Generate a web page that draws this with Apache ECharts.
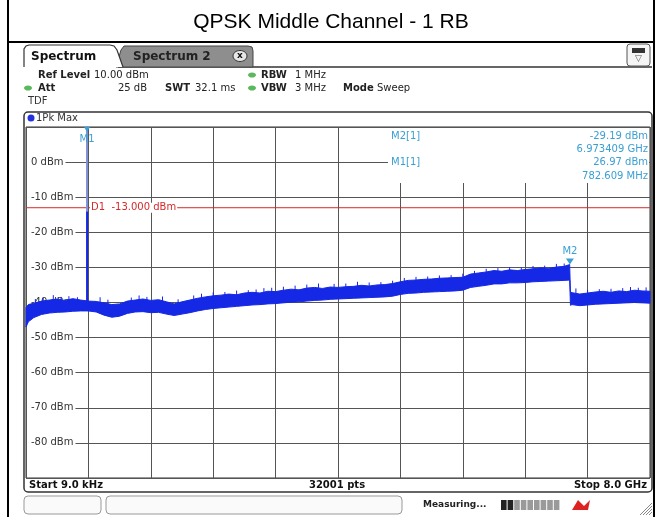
<!DOCTYPE html>
<html><head><meta charset="utf-8">
<script src="https://cdn.jsdelivr.net/npm/echarts@6/dist/echarts.min.js"></script>
<style>html,body{margin:0;padding:0;background:#fff}#c{width:656px;height:517px}</style>
</head><body><div id="c"></div>
<script>
// ---- data ----
const titleText = 'QPSK Middle Channel - 1 RB';
const freqGHz = [0,0.03,0.1,0.2,0.3,0.4,0.5,0.6,0.7,0.8,
  0.9,1.0,1.1,1.2,1.3,1.4,1.5,1.6,
  1.7,1.8,1.9,2.0,2.1,2.2,2.3,2.4,
  2.5,2.6,2.7,2.8,2.9,3.0,3.1,3.2,
  3.3,3.4,3.5,3.6,3.7,3.8,3.9,4.0,
  4.1,4.2,4.3,4.4,4.5,4.6,4.7,4.8,
  4.9,5.0,5.1,5.2,5.3,5.4,5.5,5.6,
  5.7,5.8,5.9,6.0,6.1,6.2,6.3,6.4,
  6.5,6.6,6.7,6.8,6.9,6.97,6.98,7.0,
  7.1,7.2,7.3,7.4,7.5,7.6,7.7,7.8,7.9,8.0];
const upperDbm = [-41.5,-40.6,-40.2,-39.6,-39.3,-39.0,-39.4,-38.9,-39.3,-39.6,
  -39.7,-40.1,-40.6,-40.4,-39.6,-39.3,-39.0,-39.4,
  -39.2,-39.8,-40.4,-39.8,-39.3,-38.8,-38.4,-38.1,
  -37.9,-37.6,-37.8,-37.3,-37.1,-37.3,-36.8,-36.9,
  -36.5,-36.2,-36.4,-35.9,-35.7,-36.0,-35.6,-35.7,
  -35.5,-35.4,-35.1,-35.3,-35.0,-34.9,-34.6,-34.1,
  -33.7,-33.6,-33.4,-33.3,-33.1,-33.0,-32.9,-32.8,
  -31.9,-31.6,-31.3,-30.9,-31.1,-30.7,-30.9,-30.6,
  -30.4,-30.1,-30.3,-29.9,-29.7,-29.2,-37.0,-37.2,
  -37.6,-37.3,-37.0,-36.8,-37.1,-36.7,-36.9,-36.5,-36.7,-36.8];
const lowerDbm = [-47.0,-45.5,-44.3,-43.4,-43.0,-42.8,-42.7,-42.5,-42.4,-42.4,
  -42.7,-43.6,-44.2,-43.9,-43.1,-42.7,-42.6,-42.9,
  -42.8,-43.3,-43.7,-43.3,-42.9,-42.4,-42.0,-41.7,
  -41.5,-41.3,-41.1,-40.9,-40.7,-40.6,-40.4,-40.3,
  -40.1,-39.9,-39.8,-39.6,-39.4,-39.3,-39.1,-39.0,
  -38.9,-38.8,-38.7,-38.6,-38.5,-38.4,-38.2,-37.7,
  -37.4,-37.3,-37.1,-37.0,-36.9,-36.8,-36.7,-36.5,
  -35.7,-35.4,-35.1,-34.7,-34.7,-34.4,-34.4,-34.3,
  -34.1,-34.0,-33.9,-33.8,-33.7,-33.6,-40.8,-40.6,
  -40.9,-40.7,-40.5,-40.4,-40.3,-40.2,-40.1,-40.0,-40.1,-40.2];
// noise spikes: [freq GHz, base dBm, peak dBm]
const spikes = [[0.12,-41,-39.0],[0.22,-41,-38.6],[0.35,-40,-37.9],[0.45,-40,-38.4],[0.55,-40,-38.2],[0.66,-40,-38.5],
  [0.95,-41,-38.5],[1.05,-41,-39.2],[1.35,-41,-38.6],[1.45,-40,-38.0],[1.55,-40,-38.4],[1.75,-40,-38.3],[1.95,-41,-39.1],
  [2.15,-40,-38.0],[2.25,-40,-37.5],[2.4,-40,-37.1],[2.55,-39,-37.0],[2.7,-39,-36.6],[2.85,-38,-36.5],[2.95,-38,-36.3],
  [3.05,-38,-35.9],[3.15,-38,-35.8],[3.3,-38,-35.5],[3.45,-37,-35.2],[3.6,-37,-34.9],[3.75,-37,-34.6],[3.95,-37,-34.7],
  [4.1,-37,-34.6],[4.25,-36,-34.1],[4.4,-36,-34.3],[4.55,-36,-34.2],[4.7,-36,-33.8],[4.85,-35,-33.0],[5.0,-35,-32.7],
  [5.15,-35,-32.6],[5.3,-35,-32.3],[5.45,-34,-32.2],[5.6,-34,-31.8],[5.75,-33,-31.0],[5.9,-33,-30.4],[6.05,-32,-30.2],
  [6.2,-32,-29.9],[6.35,-32,-30.0],[6.5,-32,-29.6],[6.65,-32,-29.5],[6.8,-31,-29.0],[6.9,-31,-28.9],
  [7.05,-38,-36.0],[7.2,-38,-36.4],[7.35,-38,-36.2],[7.5,-38,-36.1],[7.65,-38,-35.9],[7.75,-38,-35.6],[7.85,-38,-35.8],[7.95,-38,-35.7]];
const m1 = {name:'M1', f:0.782609, p:26.97, fText:'782.609 MHz', base:-41.5, fade:-14};
const m2 = {name:'M2', f:6.973409, p:-29.19, fText:'6.973409 GHz'};
const d1Level = -13;
const yMin = -90, yMax = 10, yStep = 10;
const xMin = 0, xMax = 8, xStep = 0.8;

// ---- styles ----
const BLUE = '#1428e6';
const MK = '#3a9fd2';
const FONT = '"DejaVu Sans", Verdana, sans-serif';

const chart = echarts.init(document.getElementById('c'));

const option = {
  animation: false,
  grid: {left: 26, right: 6, top: 127, bottom: 39, show: true, borderColor: '#333', borderWidth: 1, backgroundColor: '#fff'},
  xAxis: {type: 'value', min: xMin, max: xMax, interval: xStep,
    axisLabel: {show: false}, axisTick: {show: false}, axisLine: {show: false},
    splitLine: {lineStyle: {color: '#555', width: 1}}},
  yAxis: {type: 'value', min: yMin, max: yMax, interval: yStep,
    axisTick: {show: false}, axisLine: {show: false},
    splitLine: {lineStyle: {color: '#555', width: 1}},
    axisLabel: {inside: true, margin: 1, showMinLabel: false, showMaxLabel: false,
      formatter: v => v + ' dBm', color: '#333', fontSize: 10, fontFamily: FONT,
      backgroundColor: '#fff', padding: [1, 2, 1, 4]}},
  series: [
    { // D1 display line
      type: 'line', data: [[xMin, d1Level], [xMax, d1Level]], symbol: 'none',
      lineStyle: {color: '#d42a2a', width: 1}, z: 3, silent: true
    },
    { // trace band
      type: 'custom', data: [[0]], z: 4, silent: true,
      renderItem: (params, api) => {
        const pts = [];
        for (let i = 0; i < freqGHz.length; i++) pts.push(api.coord([freqGHz[i], upperDbm[i]]));
        for (let i = freqGHz.length - 1; i >= 0; i--) pts.push(api.coord([freqGHz[i], lowerDbm[i]]));
        return {type: 'polygon', shape: {points: pts}, style: {fill: BLUE, stroke: BLUE, lineWidth: 1}};
      }
    },
    { // spikes
      type: 'custom', data: spikes, z: 4, silent: true,
      renderItem: (params, api) => {
        const a = api.coord([api.value(0), api.value(1)]);
        const b = api.coord([api.value(0), api.value(2)]);
        return {type: 'line', shape: {x1: a[0], y1: a[1], x2: b[0], y2: b[1]}, style: {stroke: BLUE, lineWidth: 1}};
      }
    },
    { // M1 carrier, lower part
      type: 'line', data: [[m1.f, m1.base], [m1.f, m1.fade]], symbol: 'none', clip: true,
      lineStyle: {color: BLUE, width: 2}, z: 5, silent: true
    },
    { // M1 carrier, upper part (clipped at top)
      type: 'line', data: [[m1.f, m1.fade], [m1.f, m1.p]], symbol: 'none', clip: true,
      lineStyle: {color: '#7d90d6', width: 2}, z: 5, silent: true
    }
  ]
};
chart.setOption(option);

// ---- decoration / annotation ----
const P = (x, y) => chart.convertToPixel({gridIndex: 0}, [x, y]);
const els = [];
const T = (text, x, y, o) => els.push({type: 'text', z: 120, style: Object.assign({text, x, y,
  font: '10px ' + FONT, fill: '#222', verticalAlign: 'middle'}, o || {})});

// frame
els.push({type: 'line', z: 110, shape: {x1: 8, y1: 0, x2: 8, y2: 517}, style: {stroke: '#000', lineWidth: 2}});
els.push({type: 'line', z: 110, shape: {x1: 654, y1: 0, x2: 654, y2: 517}, style: {stroke: '#000', lineWidth: 2}});
els.push({type: 'line', z: 110, shape: {x1: 8, y1: 42, x2: 654, y2: 42}, style: {stroke: '#000', lineWidth: 2}});
els.push({type: 'text', z: 120, style: {text: titleText, x: 331, y: 22, align: 'center', verticalAlign: 'middle',
  font: '21px "Liberation Sans", Arial, sans-serif', fill: '#000'}});

// tabs
els.push({type: 'line', z: 110, shape: {x1: 118, y1: 67, x2: 652, y2: 67}, style: {stroke: '#333', lineWidth: 1.5}});
els.push({type: 'polygon', z: 111, shape: {points: [[116,67],[121,50],[124,46],[128,46],[248,46],[252,47],[253,51],[253,67]]},
  style: {fill: '#8e8e8e', stroke: '#444', lineWidth: 1}});
els.push({type: 'polygon', z: 112, shape: {points: [[24,67],[24,49],[26,46],[29,45],[110,45],[114,46],[117,50],[123,67]]},
  style: {fill: '#fff'}});
els.push({type: 'polyline', z: 113, shape: {points: [[24,67],[24,49],[26,46],[29,45],[110,45],[114,46],[117,50],[123,67]]},
  style: {fill: null, stroke: '#333', lineWidth: 1.2}});
T('Spectrum', 31, 57, {font: 'bold 12px ' + FONT, fill: '#111'});
T('Spectrum 2', 133, 57, {font: 'bold 12px ' + FONT, fill: '#222'});
els.push({type: 'ellipse', z: 119, shape: {cx: 240, cy: 56, rx: 7, ry: 5.5}, style: {fill: '#e6e6e6', stroke: '#333', lineWidth: 1}});
T('x', 240, 56, {font: 'bold 9px ' + FONT, align: 'center', fill: '#111'});
els.push({type: 'rect', z: 115, shape: {x: 627, y: 44, width: 23, height: 22, r: 3}, style: {fill: '#f5f5f5', stroke: '#555', lineWidth: 1}});
els.push({type: 'rect', z: 116, shape: {x: 632, y: 48, width: 13, height: 5}, style: {fill: '#333'}});
T('\u25BD', 638.5, 59, {font: '9px ' + FONT, align: 'center', fill: '#555'});

// header info
T('Ref Level', 38, 75, {font: 'bold 10px ' + FONT});
T('10.00 dBm', 94, 75);
T('Att', 38, 88, {font: 'bold 10px ' + FONT});
T('25 dB', 147, 88, {align: 'right'});
T('SWT', 165, 88, {font: 'bold 10px ' + FONT});
T('32.1 ms', 195, 88);
T('RBW', 261, 75, {font: 'bold 10px ' + FONT});
T('1 MHz', 295, 75);
T('VBW', 261, 88, {font: 'bold 10px ' + FONT});
T('3 MHz', 295, 88);
T('Mode', 343, 88, {font: 'bold 10px ' + FONT});
T('Sweep', 377, 88);
T('TDF', 28, 101, {fill: '#333'});
[[28, 88], [252, 75], [252, 88]].forEach(c => els.push({type: 'ellipse', z: 119, shape: {cx: c[0], cy: c[1], rx: 4, ry: 2.6}, style: {fill: '#5cb85c'}}));

// panel
els.push({type: 'rect', z: 105, shape: {x: 24, y: 112, width: 628, height: 380, r: 4}, style: {fill: 'none', stroke: '#333', lineWidth: 1.5}});
els.push({type: 'circle', z: 119, shape: {cx: 31, cy: 118, r: 3.5}, style: {fill: '#2233dd'}});
T('1Pk Max', 36, 118, {fill: '#333'});
T('Start 9.0 kHz', 29, 485, {font: 'bold 10px ' + FONT, fill: '#111'});
T('32001 pts', 337, 485, {font: 'bold 10px ' + FONT, fill: '#111', align: 'center'});
T('Stop 8.0 GHz', 647, 485, {font: 'bold 10px ' + FONT, fill: '#111', align: 'right'});

// status bar
els.push({type: 'rect', z: 105, shape: {x: 24, y: 496, width: 77, height: 18, r: 4}, style: {fill: '#fafafa', stroke: '#999', lineWidth: 1}});
els.push({type: 'rect', z: 105, shape: {x: 106, y: 496, width: 296, height: 18, r: 4}, style: {fill: '#fafafa', stroke: '#999', lineWidth: 1}});
T('Measuring...', 423, 505, {font: 'bold 9px ' + FONT, fill: '#222'});
for (let i = 0; i < 9; i++) {
  els.push({type: 'rect', z: 115, shape: {x: 501 + i * 6.6, y: 500, width: 5.6, height: 10}, style: {fill: i < 2 ? '#222' : '#9a9a9a'}});
}
els.push({type: 'polygon', z: 115, shape: {points: [[572,510],[578,500],[584,506],[590,500],[588,510]]}, style: {fill: '#d22'}});
for (let i = 0; i < 4; i++) {
  els.push({type: 'line', z: 115, shape: {x1: 640 + i * 3, y1: 515, x2: 652, y2: 503 + i * 3}, style: {stroke: '#888', lineWidth: 1}});
}

// marker table (covers upper right of grid)
els.push({type: 'rect', z: 100, shape: {x: 388, y: 128, width: 261, height: 55}, style: {fill: '#fff'}});
T(m2.name + '[1]', 391, 136, {fill: MK});
T(m2.p.toFixed(2) + ' dBm', 648, 136, {fill: MK, align: 'right'});
T(m2.fText, 648, 149, {fill: MK, align: 'right'});
T(m1.name + '[1]', 391, 162, {fill: MK});
T(m1.p.toFixed(2) + ' dBm', 648, 162, {fill: MK, align: 'right'});
T(m1.fText, 648, 176, {fill: MK, align: 'right'});

// D1 label
const d1p = P(m1.f, d1Level);
T('D1  ' + d1Level.toFixed(3) + ' dBm', d1p[0] + 3, d1p[1], {fill: '#d42a2a', backgroundColor: '#fff', padding: [0, 1, 0, 1]});

// M1 marker (at top edge since level is above the display range)
const m1p = P(m1.f, yMax);
els.push({type: 'polygon', z: 118, shape: {points: [[m1p[0] - 3, m1p[1]], [m1p[0] + 3, m1p[1]], [m1p[0], m1p[1] + 5]]}, style: {fill: MK}});
T(m1.name, m1p[0], m1p[1] + 12, {fill: MK, align: 'center'});
// M2 marker
const m2p = P(m2.f, m2.p);
els.push({type: 'polygon', z: 118, shape: {points: [[m2p[0] - 4, m2p[1] - 6], [m2p[0] + 4, m2p[1] - 6], [m2p[0], m2p[1]]]}, style: {fill: MK}});
T(m2.name, m2p[0], m2p[1] - 13, {fill: MK, align: 'center'});

chart.setOption({graphic: {elements: els}});
</script>
</body></html>
